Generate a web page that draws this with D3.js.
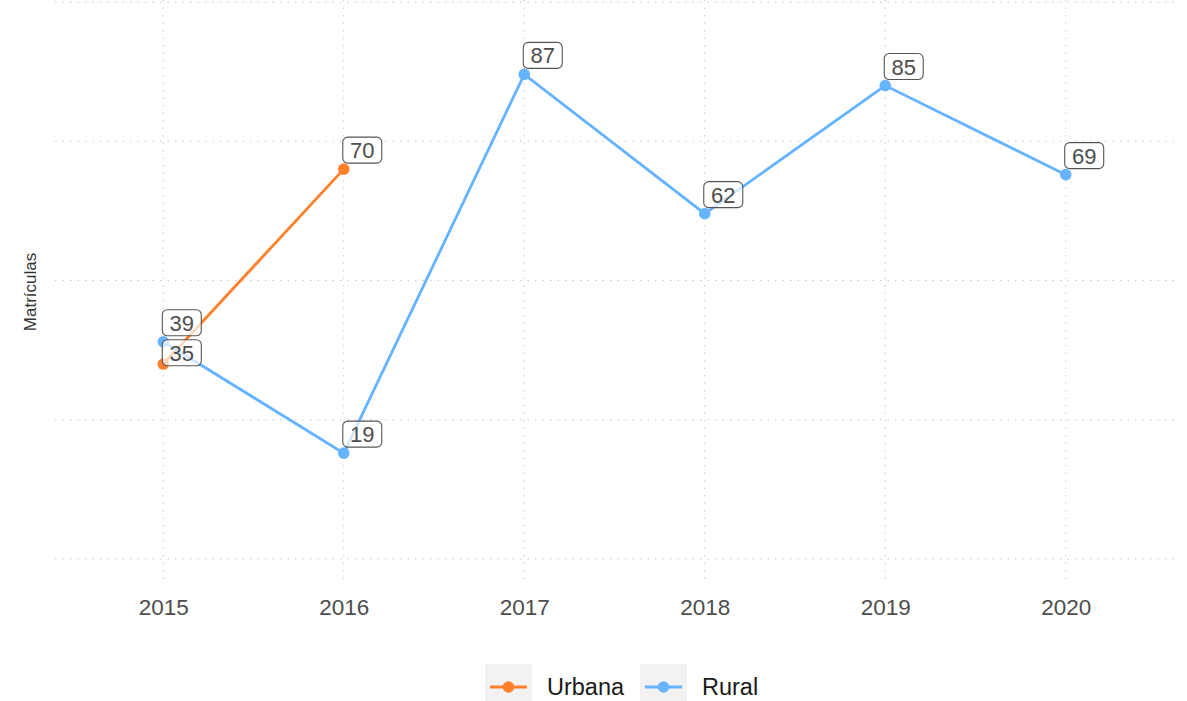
<!DOCTYPE html>
<html>
<head>
<meta charset="utf-8">
<script src="https://cdn.jsdelivr.net/npm/d3@7"></script>
<style>
  body { margin: 0; background: #fff; }
  text { font-family: "Liberation Sans", Arial, sans-serif; }
</style>
</head>
<body>
<svg id="chart" width="1187" height="701"></svg>
<script>
// Enrolment counts by year and zone
const years = [2015, 2016, 2017, 2018, 2019, 2020];
const urbana = [35, 70];                    // 2015-2016
const rural = [39, 19, 87, 62, 85, 69];     // 2015-2020
const yTicks = [0, 25, 50, 75, 100];
const seriesNames = ["Urbana", "Rural"];
const seriesColors = ["#ff7f2a", "#66b3ff"];

const series = [
  { name: seriesNames[0], color: seriesColors[0], values: urbana.map((v, i) => ({ year: years[i], value: v })) },
  { name: seriesNames[1], color: seriesColors[1], values: rural.map((v, i) => ({ year: years[i], value: v })) }
];

const svg = d3.select("#chart");

const x = d3.scalePoint().domain(years).range([55, 1174]).padding(0.6);
const y = d3.scaleLinear().domain([0, 100]).range([559, 2]);
const panelTop = 0, panelBottom = 585;

// dotted grid
const grid = svg.append("g");
grid.selectAll(".hg").data(yTicks).join("line")
  .attr("x1", 55).attr("x2", 1174)
  .attr("y1", d => y(d)).attr("y2", d => y(d))
  .attr("stroke", "#c8c8c8").attr("stroke-width", 1).attr("stroke-dasharray", "1.5,6");
grid.selectAll(".vg").data(years).join("line")
  .attr("x1", d => x(d)).attr("x2", d => x(d))
  .attr("y1", panelTop).attr("y2", panelBottom)
  .attr("stroke", "#c8c8c8").attr("stroke-width", 1).attr("stroke-dasharray", "1.5,6");

// x axis labels
const xAxis = d3.axisBottom(x).tickSize(0).tickPadding(0);
const xg = svg.append("g").attr("transform", `translate(0,${panelBottom + 30})`).call(xAxis);
xg.select(".domain").remove();
xg.selectAll("text").attr("font-size", 22.5).attr("fill", "#4d4d4d").attr("dy", "0")
  .style("font-family", "'Liberation Sans', Arial, sans-serif");

// y axis title
svg.append("text")
  .attr("transform", "translate(36,292) rotate(-90)")
  .attr("text-anchor", "middle")
  .attr("font-size", 17).attr("fill", "#333")
  .text("Matrículas");

// lines and points
const line = d3.line().x(d => x(d.year)).y(d => y(d.value));
series.forEach(s => {
  svg.append("path").datum(s.values)
    .attr("d", line).attr("fill", "none")
    .attr("stroke", s.color).attr("stroke-width", 2.8);
});
series.forEach(s => {
  svg.append("g").selectAll("circle").data(s.values).join("circle")
    .attr("cx", d => x(d.year)).attr("cy", d => y(d.value)).attr("r", 5.8)
    .attr("fill", s.color);
});

// value labels: boxes nudged up-right of each point; the Urbana 2015 box
// is pushed just below the Rural 2015 box to avoid overlap
const w = 39, h = 26;
const lg = svg.append("g");
series.forEach((s, si) => s.values.forEach(d => {
  const px = x(d.year), py = y(d.value);
  const bx = px - 1;
  const by = (si === 0 && d.year === 2015) ? (y(39) - 7 + 5) : (py - 6 - h);
  const g = lg.append("g");
  g.append("rect").attr("x", bx).attr("y", by).attr("width", w).attr("height", h)
    .attr("rx", 5).attr("fill", "rgba(255,255,255,0.7)")
    .attr("stroke", "#555").attr("stroke-width", 1.1);
  g.append("text").attr("x", bx + w / 2).attr("y", by + h / 2 + 8)
    .attr("text-anchor", "middle").attr("font-size", 22).attr("fill", "#4d4d4d")
    .text(d.value);
}));

// legend
const legend = svg.append("g");
const keys = [{ x: 485, tx: 547 }, { x: 640, tx: 702 }];
series.forEach((s, i) => {
  const k = keys[i];
  legend.append("rect").attr("x", k.x).attr("y", 664).attr("width", 47).attr("height", 37).attr("fill", "#f2f2f2");
  legend.append("line").attr("x1", k.x + 5).attr("x2", k.x + 42).attr("y1", 687).attr("y2", 687)
    .attr("stroke", s.color).attr("stroke-width", 2.8);
  legend.append("circle").attr("cx", k.x + 23.5).attr("cy", 687).attr("r", 5.8).attr("fill", s.color);
  legend.append("text").attr("x", k.tx).attr("y", 695).attr("font-size", 23.5).attr("fill", "#1a1a1a").text(s.name);
});
</script>
</body>
</html>
